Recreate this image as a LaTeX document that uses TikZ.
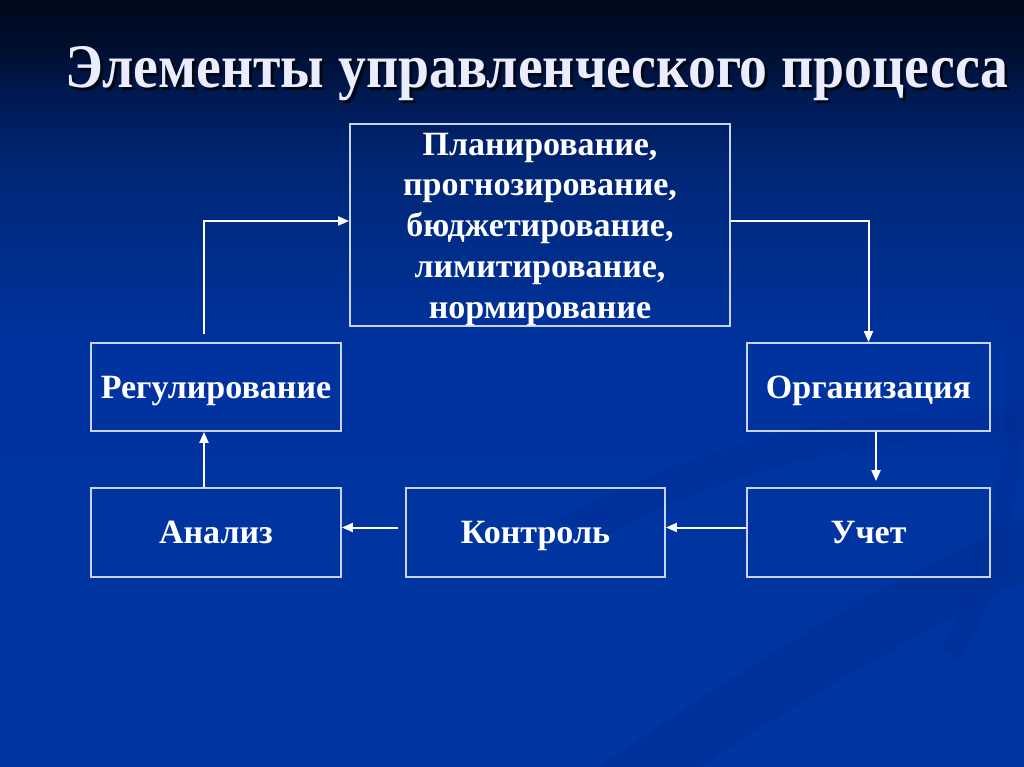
\documentclass[tikz,border=0pt]{standalone}
\usepackage{fontspec}
\setmainfont{Liberation Serif}
\usetikzlibrary{arrows.meta}
\definecolor{c0}{HTML}{000A1C}
\definecolor{c1}{HTML}{000E2E}
\definecolor{c2}{HTML}{001A55}
\definecolor{c3}{HTML}{002470}
\definecolor{c4}{HTML}{002D88}
\definecolor{c5}{HTML}{0033A0}
\definecolor{c6}{HTML}{0035A2}
\definecolor{swoosh}{HTML}{002C8C}
\definecolor{edge}{HTML}{C8D4F2}
\definecolor{titlecol}{HTML}{ECECFF}
\definecolor{shadowcol}{HTML}{000814}
\pgfdeclareverticalshading{bgshade}{100bp}{color(0bp)=(c6); color(25bp)=(c6); color(52bp)=(c5); color(59bp)=(c4); color(65bp)=(c3); color(68.5bp)=(c2); color(72bp)=(c1); color(75bp)=(c0); color(100bp)=(c0)}
\tikzset{
  box/.style={draw=edge, line width=1.8pt, fill=none, text=white, align=center, inner sep=0pt},
  lbl/.style={font=\fontsize{34}{40.75}\selectfont\bfseries},
  one/.style={text height=22.4pt, text depth=0pt},
  arr/.style={draw=white, line width=2pt, -{Triangle[length=11pt,width=9pt]}},
}
\newcommand{\titletext}{Элементы управленческого процесса}
\begin{document}
\begin{tikzpicture}[x=1pt,y=-1pt]
\useasboundingbox (0,0) rectangle (1024,767);
\shade[shading=bgshade] (0,0) rectangle (1024,767);
% faint background swooshes
\begin{scope}
\clip (0,0) rectangle (1024,767);
\fill[swoosh, opacity=0.35] (600,767) .. controls (780,640) and (930,560) .. (1024,520) -- (1024,580) .. controls (940,620) and (800,700) .. (700,767) -- cycle;
\fill[swoosh, opacity=0.3] (560,520) .. controls (700,440) and (880,400) .. (1024,410) -- (1024,440) .. controls (880,430) and (720,470) .. (600,540) -- cycle;
\fill[swoosh, opacity=0.25] (1000,300) .. controls (1010,450) and (1000,560) .. (940,650) -- (960,660) .. controls (1024,560) and (1024,420) .. (1024,330) -- cycle;
\end{scope}
% title
\node[font=\fontsize{62}{64}\selectfont\bfseries, text=titlecol, anchor=base] (title) at (537,88) {\scalebox{0.9}[1]{\makebox[0pt][l]{\kern3pt\raisebox{-3pt}{\textcolor{shadowcol}{\titletext}}}\titletext}};
% boxes
\node[box, lbl, minimum width=380pt, minimum height=202pt] (plan) at (540,225) {};
\node[lbl, text=white, align=center, inner sep=0pt] (plantext) at (540,229) {Планирование,\\прогнозирование,\\бюджетирование,\\лимитирование,\\нормирование};
\node[box, lbl, one, minimum width=250pt, minimum height=88pt] (reg) at (216,387) {Регулирование};
\node[box, lbl, one, minimum width=243pt, minimum height=88pt] (org) at (868.5,387) {Организация};
\node[box, lbl, one, minimum width=250pt, minimum height=89pt] (anl) at (216,532.5) {Анализ};
\node[box, lbl, one, minimum width=259pt, minimum height=89pt] (ctl) at (535.5,532.5) {Контроль};
\node[box, lbl, one, minimum width=243pt, minimum height=89pt] (uch) at (868.5,532.5) {Учет};
% connectors
\coordinate (r0) at (204,334);
\draw[arr] (r0) |- ([yshift=4pt]plan.west);
\draw[arr] ([yshift=4pt]plan.east) -| (org.north);
\draw[arr] ([xshift=7.5pt]org.south) -- ([xshift=7.5pt,yshift=6pt]uch.north);
\draw[arr] ([yshift=5pt]uch.west) -- ([yshift=5pt]ctl.east);
\draw[arr] ([xshift=-7pt,yshift=5pt]ctl.west) -- ([yshift=5pt]anl.east);
\draw[arr] ([xshift=-12pt]anl.north) -- ([xshift=-12pt]reg.south);
\end{tikzpicture}
\end{document}
